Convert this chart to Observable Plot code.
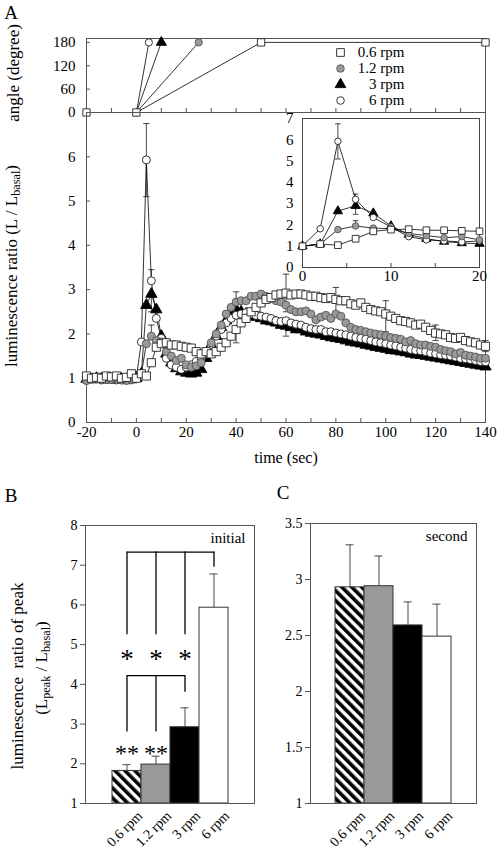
<!DOCTYPE html>
<html><head><meta charset="utf-8">
<script src="https://cdn.jsdelivr.net/npm/d3@7"></script>
<script src="https://cdn.jsdelivr.net/npm/@observablehq/plot@0.6"></script>
<style>
body{margin:0;background:#fff;}
#wrap{position:relative;width:498px;height:852px;font-family:"Liberation Serif","Times New Roman",serif;color:#000;overflow:hidden;}
.lbl{position:absolute;white-space:nowrap;font-family:"Liberation Serif","Times New Roman",serif;line-height:1;}
.sb{font-size:0.72em;vertical-align:-0.25em;}
</style></head>
<body><div id="wrap"></div>
<script>
// ---------- DATA ----------
const times = [-20,-18,-16,-14,-12,-10,-8,-6,-4,-2,0,2,4,6,8,10,12,14,16,18,20,22,24,26,28,30,32,34,36,38,40,42,44,46,48,50,52,54,56,58,60,62,64,66,68,70,72,74,76,78,80,82,84,86,88,90,92,94,96,98,100,102,104,106,108,110,112,114,116,118,120,122,124,126,128,130,132,134,136,138,140];
const ratio06 = [1.05,1.0,1.02,1.0,1.05,1.03,1.05,1.0,1.02,1.1,1.0,
  1.1,1.05,1.35,1.7,1.78,1.8,1.75,1.75,1.72,1.7,
  1.68,1.6,1.55,1.6,1.55,1.6,1.7,1.8,1.95,2.1,
  2.25,2.35,2.5,2.6,2.7,2.78,2.82,2.88,2.9,2.92,
  2.88,2.9,2.9,2.88,2.85,2.85,2.82,2.8,2.82,2.78,
  2.75,2.75,2.68,2.65,2.7,2.6,2.55,2.52,2.5,2.45,
  2.4,2.35,2.3,2.28,2.25,2.2,2.22,2.15,2.08,2.02,
  2.0,1.98,1.92,1.9,1.92,1.85,1.82,1.8,1.75,1.72];
const ratio12 = [0.95,1.0,0.98,0.97,1.0,0.97,0.98,0.96,0.95,0.97,1.0,
  1.1,1.78,1.95,1.85,1.82,1.6,1.5,1.4,1.45,1.3,
  1.25,1.28,1.35,1.55,1.8,2.0,2.2,2.45,2.6,2.72,
  2.75,2.75,2.85,2.85,2.9,2.85,2.8,2.75,2.72,2.65,
  2.55,2.5,2.5,2.52,2.45,2.32,2.38,2.42,2.35,2.45,
  2.4,2.25,2.15,2.1,2.08,2.05,2.02,2.0,1.98,1.95,
  1.92,1.9,1.88,1.82,1.85,1.78,1.75,1.75,1.72,1.7,
  1.65,1.62,1.6,1.55,1.58,1.52,1.5,1.48,1.45,1.45];
const ratio3 = [0.98,0.97,1.0,0.98,0.97,0.97,0.96,0.98,0.95,0.97,1.0,
  1.1,2.65,2.9,2.55,1.95,1.55,1.35,1.22,1.15,1.12,
  1.1,1.12,1.2,1.45,1.75,1.95,2.15,2.3,2.45,2.55,
  2.5,2.45,2.42,2.38,2.35,2.3,2.28,2.25,2.2,2.18,
  2.15,2.1,2.1,2.05,2.02,2.0,1.98,1.95,1.92,1.9,
  1.88,1.85,1.82,1.8,1.78,1.75,1.73,1.7,1.68,1.66,
  1.63,1.62,1.6,1.58,1.55,1.53,1.52,1.5,1.48,1.46,
  1.44,1.42,1.4,1.38,1.36,1.34,1.32,1.3,1.28,1.26];
const ratio6 = [0.95,0.98,1.0,0.96,0.97,0.98,0.96,0.97,1.0,0.97,1.02,
  1.82,5.93,3.2,2.35,1.9,1.45,1.3,1.25,1.2,1.25,
  1.3,1.38,1.45,1.55,1.75,1.95,2.1,2.25,2.35,2.42,
  2.45,2.48,2.45,2.42,2.4,2.38,2.35,2.3,2.28,2.3,
  2.25,2.22,2.2,2.15,2.12,2.1,2.1,2.05,2.05,2.02,
  2.0,1.98,1.95,1.92,1.9,1.88,1.85,1.82,1.8,1.78,
  1.75,1.73,1.7,1.68,1.65,1.63,1.62,1.6,1.57,1.55,
  1.53,1.52,1.5,1.48,1.45,1.44,1.42,1.4,1.38,1.37];
const seriesNames = ["0.6 rpm","1.2 rpm","3 rpm","6 rpm"];
const seriesValues = [ratio06, ratio12, ratio3, ratio6];

const angleTimes = [[-20,0,50,140],[0,25],[0,10],[0,5]];
const angleValues = [[0,0,180,180],[0,180],[0,180],[0,180]];

const errSeries = ["6 rpm","6 rpm","3 rpm","1.2 rpm","1.2 rpm","0.6 rpm","0.6 rpm","3 rpm","0.6 rpm","0.6 rpm","0.6 rpm","0.6 rpm"];
const errTime   = [4,6,6,6,40,40,60,60,80,100,120,140];
const errLow    = [5.1,3.2,2.5,1.95,2.72,1.8,2.5,1.95,2.5,2.05,1.85,1.6];
const errHigh   = [6.75,3.45,2.9,2.2,2.95,2.1,3.35,2.18,3.05,2.75,2.2,1.85];

const barLabels = ["0.6 rpm","1.2 rpm","3 rpm","6 rpm"];
const initialMean = [1.82,1.98,2.92,5.93];
const initialErr  = [0.16,0.21,0.49,0.85];
const secondMean  = [2.93,2.94,2.59,2.49];
const secondErr   = [0.38,0.27,0.21,0.29];
const upperBracketY = 7.33, upperBracketBottom = [5.25,5.25,5.25,6.95];
const lowerBracketY = 4.22, lowerBracketBottom = [2.8,2.8,3.8];
const starY = 4.62, doubleStarY = 2.27;

const xTicksMain = [-20,0,20,40,60,80,100,120,140];
const xMinorMain = [-20,-10,0,10,20,30,40,50,60,70,80,90,100,110,120,130,140];
const yTicksMain = [0,1,2,3,4,5,6];
const angleTicks = [0,60,120,180];
const insetXTicks = [0,10,20], insetXMinor = [0,5,10,15,20], insetYTicks = [0,1,2,3,4,5,6,7];
const bTicks = [1,2,3,4,5,6,7,8];
const cTicks = [1,1.5,2,2.5,3,3.5];

// ---------- STYLE ----------
const F = "Liberation Serif, Times New Roman, serif";
const baseStyle = {fontFamily: F, fontSize: "15px", background: "transparent", overflow: "visible", color: "#000"};
const sym = {"0.6 rpm":"square","1.2 rpm":"circle","3 rpm":"triangle","6 rpm":"circle"};
const fillC = {"0.6 rpm":"#fff","1.2 rpm":"#9a9a9a","3 rpm":"#000","6 rpm":"#fff"};
const strokeC = {"0.6 rpm":"#222","1.2 rpm":"#555","3 rpm":"#000","6 rpm":"#222"};
const rBase = {"0.6 rpm":4.6,"1.2 rpm":4,"3 rpm":4.2,"6 rpm":4};
const capSymbol = {draw(ctx, size){ const w = Math.sqrt(size); ctx.moveTo(-w,0); ctx.lineTo(w,0); }};

const wrap = document.getElementById("wrap");
function add(el, left, top){ el.style.position="absolute"; el.style.left=left+"px"; el.style.top=top+"px"; wrap.appendChild(el); return el; }
function label(html, cx, cy, size, rot){
  const d = document.createElement("div"); d.className="lbl"; d.innerHTML=html; d.style.fontSize=size+"px";
  d.style.left=cx+"px"; d.style.top=cy+"px";
  d.style.transform = "translate(-50%,-50%)" + (rot ? " rotate(-90deg)" : "");
  wrap.appendChild(d);
}

const mainRows = [];
seriesNames.forEach((s,i)=> times.forEach((t,j)=> mainRows.push({s, t, v: seriesValues[i][j]})));
const errRows = errTime.map((t,i)=>({s: errSeries[i], t, lo: errLow[i], hi: errHigh[i]}));

function seriesMarks(rows, k){
  const order = ["3 rpm","6 rpm","1.2 rpm","0.6 rpm"];
  return order.flatMap(s=>{
    const d = rows.filter(r=>r.s===s);
    return [
      Plot.line(d,{x:"t",y:"v",stroke:"#000",strokeWidth:0.8}),
      Plot.dot(d,{x:"t",y:"v",symbol:sym[s],r:rBase[s]*k,fill:fillC[s],stroke:strokeC[s],strokeWidth:0.9})
    ];
  });
}
function errMarks(rows, capR){
  return [
    Plot.ruleX(rows,{x:"t",y1:"lo",y2:"hi",stroke:"#333",strokeWidth:0.9}),
    Plot.dot(rows,{x:"t",y:"hi",symbol:capSymbol,r:capR,fill:"none",stroke:"#333",strokeWidth:0.9}),
    Plot.dot(rows,{x:"t",y:"lo",symbol:capSymbol,r:capR,fill:"none",stroke:"#333",strokeWidth:0.9})
  ];
}

// ---------- ANGLE PANEL ----------
const angleMarks = [];
[3,2,1,0].forEach(i=>{
  const d = angleTimes[i].map((t,j)=>({t, a: angleValues[i][j]}));
  const s = seriesNames[i];
  angleMarks.push(Plot.line(d,{x:"t",y:"a",stroke:"#000",strokeWidth:0.8}));
  angleMarks.push(Plot.dot(i===0 ? d : d.slice(1),{x:"t",y:"a",symbol:sym[s],r:rBase[s]*0.9,fill:fillC[s],stroke:strokeC[s],strokeWidth:0.9}));
});
seriesNames.forEach((s,i)=>{
  angleMarks.push(Plot.dot([s],{frameAnchor:"top-left",dx:254,dy:14+i*16,symbol:sym[s],r:rBase[s]*0.95,fill:fillC[s],stroke:strokeC[s],strokeWidth:0.9}));
  angleMarks.push(Plot.text([s],{frameAnchor:"top-left",dx:318,dy:14+i*16,text:d=>d,textAnchor:"end",lineAnchor:"middle",fontSize:15}));
});
const anglePlot = Plot.plot({
  width:498,height:112,marginLeft:86,marginRight:13,marginTop:38,marginBottom:0,
  style:baseStyle,
  x:{domain:[-20,140],axis:null,label:null},
  y:{domain:[0,190],axis:null,label:null},
  marks:[
    Plot.frame({stroke:"#555"}),
    Plot.tickX(xMinorMain,{x:d=>d,insetTop:70,stroke:"#555"}),
    Plot.tickY(angleTicks,{y:d=>d,insetRight:395,stroke:"#555"}),
    Plot.axisY({ticks:angleTicks,tickSize:0,tickPadding:11,tickFormat:d=>String(d)}),
    ...angleMarks
  ]
});
add(anglePlot,0,0);

// ---------- MAIN PANEL ----------
const mainPlot = Plot.plot({
  width:498,height:368,marginLeft:86,marginRight:13,marginTop:0,marginBottom:58,
  style:baseStyle,
  x:{domain:[-20,140],axis:null,label:null},
  y:{domain:[0,7],axis:null,label:null},
  marks:[
    Plot.frame({stroke:"#555"}),
    Plot.tickX(xMinorMain,{x:d=>d,insetTop:306,stroke:"#555"}),
    Plot.tickY(yTicksMain,{y:d=>d,insetRight:395,stroke:"#555"}),
    Plot.axisX({ticks:xTicksMain,tickSize:0,tickPadding:4,tickFormat:d=>String(d)}),
    Plot.axisY({ticks:yTicksMain,tickSize:0,tickPadding:11,tickFormat:d=>String(d)}),
    ...errMarks(errRows,1.8),
    ...seriesMarks(mainRows,1)
  ]
});
add(mainPlot,0,112);

// ---------- INSET ----------
const insetRows = mainRows.filter(r=>r.t>=0 && r.t<=20);
const insetErr = errRows.filter(r=>r.t>=0 && r.t<=20);
const insetPlot = Plot.plot({
  width:230,height:190,marginLeft:42,marginRight:11,marginTop:18,marginBottom:23,
  style:baseStyle,
  x:{domain:[0,20],axis:null,label:null},
  y:{domain:[0,7],axis:null,label:null},
  marks:[
    Plot.frame({fill:"white",stroke:"#444"}),
    Plot.tickX(insetXMinor,{x:d=>d,insetTop:145,stroke:"#444"}),
    Plot.axisX({ticks:insetXTicks,tickSize:0,tickPadding:3,tickFormat:d=>String(d)}),
    Plot.axisY({ticks:insetYTicks,tickSize:0,tickPadding:9,tickFormat:d=>String(d)}),
    ...errMarks(insetErr,1.6),
    ...seriesMarks(insetRows,0.82)
  ]
});
add(insetPlot,260,100);

// ---------- BAR PANELS ----------
function hatchDefs(svg,id){
  const ns="http://www.w3.org/2000/svg";
  const defs=document.createElementNS(ns,"defs");
  defs.innerHTML = `<pattern id="${id}" patternUnits="userSpaceOnUse" width="7" height="7" patternTransform="rotate(-45)"><rect width="7" height="7" fill="#fff"/><rect width="3.6" height="7" fill="#000"/></pattern>`;
  svg.insertBefore(defs, svg.firstChild);
}
function barPanel(means, errs, hatchId, yDomain, yTicks, extra, tag, w, ml, mr, mt, mb, pad){
  const rows = barLabels.map((label,i)=>({label, mean:means[i], top:means[i]+errs[i]}));
  const fills = ["url(#"+hatchId+")","#999","#000","#fff"];
  return Plot.plot({
    width:w,height:372,marginLeft:ml,marginRight:mr,marginTop:mt,marginBottom:mb,
    style:{...baseStyle,fontSize:"14px"},
    x:{domain:barLabels,paddingInner:0,paddingOuter:pad,axis:null,label:null},
    y:{domain:yDomain,axis:null,label:null},
    marks:[
      Plot.ruleX(rows,{x:"label",y1:"mean",y2:"top",stroke:"#666",strokeWidth:1.2}),
      Plot.tickY(rows,{x:"label",y:"top",insetLeft:10.5,insetRight:10.5,stroke:"#666",strokeWidth:1.2}),
      ...rows.map((r,i)=>Plot.barY([r],{x:"label",y1:yDomain[0],y2:"mean",fill:fills[i],stroke:"#333",strokeWidth:1})),
      ...extra,
      Plot.frame({stroke:"#555"}),
      Plot.axisY({ticks:yTicks,tickSize:5,tickPadding:3,tickFormat:d=>String(d),stroke:"#555"}),
      Plot.text(barLabels,{x:d=>d,y:yDomain[0],text:d=>d,rotate:-45,textAnchor:"end",dx:13,dy:10,fontSize:14}),
      Plot.text([tag],{frameAnchor:"top-right",dx:-9,dy:13,text:d=>d,lineAnchor:"middle",fontSize:15})
    ]
  });
}
const upperRows = barLabels.map((l,i)=>({label:l, y1:upperBracketBottom[i], y2:upperBracketY}));
const lowerRows = lowerBracketBottom.map((b,i)=>({label:barLabels[i], y1:b, y2:lowerBracketY}));
const linkRows = [{a:barLabels[0], b:barLabels[3], y:upperBracketY},{a:barLabels[0], b:barLabels[2], y:lowerBracketY}];
const starRows = barLabels.slice(0,3).map(l=>({label:l, y:starY, t:"*"}));
const dstarRows = barLabels.slice(0,2).map(l=>({label:l, y:doubleStarY, t:"**"}));
const bExtra = [
  Plot.ruleX(upperRows,{x:"label",y1:"y1",y2:"y2",stroke:"#000",strokeWidth:1.3}),
  Plot.ruleX(lowerRows,{x:"label",y1:"y1",y2:"y2",stroke:"#000",strokeWidth:1.3}),
  Plot.link(linkRows,{x1:"a",x2:"b",y1:"y",y2:"y",stroke:"#000",strokeWidth:1.3}),
  Plot.text(starRows,{x:"label",y:"y",text:"t",fontSize:27}),
  Plot.text(dstarRows,{x:"label",y:"y",text:"t",fontSize:24,letterSpacing:"-1px"})
];
const bPlot = barPanel(initialMean, initialErr, "hatchB", [1,8], bTicks, bExtra, "initial", 262, 85, 8, 45, 49, 0.82);
hatchDefs(bPlot,"hatchB");
add(bPlot,0,480);
const cPlot = barPanel(secondMean, secondErr, "hatchC", [1,3.5], cTicks, [], "second", 236, 48, 22, 43, 49, 0.79);
hatchDefs(cPlot,"hatchC");
add(cPlot,262,480);

// ---------- TEXT LABELS ----------
label("A",11,12,19,false);
label("B",11,495,19,false);
label("C",283,492,19,false);
label("angle (degree)",13,73,17,true);
label("luminescence ratio (L / L<span class='sb'>basal</span>)",13,266,17,true);
label("time (sec)",286,458,16,false);
label("luminescence&nbsp; ratio of peak",17,676,17,true);
label("(L<span class='sb'>peak</span> / L<span class='sb'>basal</span>)",43,668,17,true);
</script></body></html>
